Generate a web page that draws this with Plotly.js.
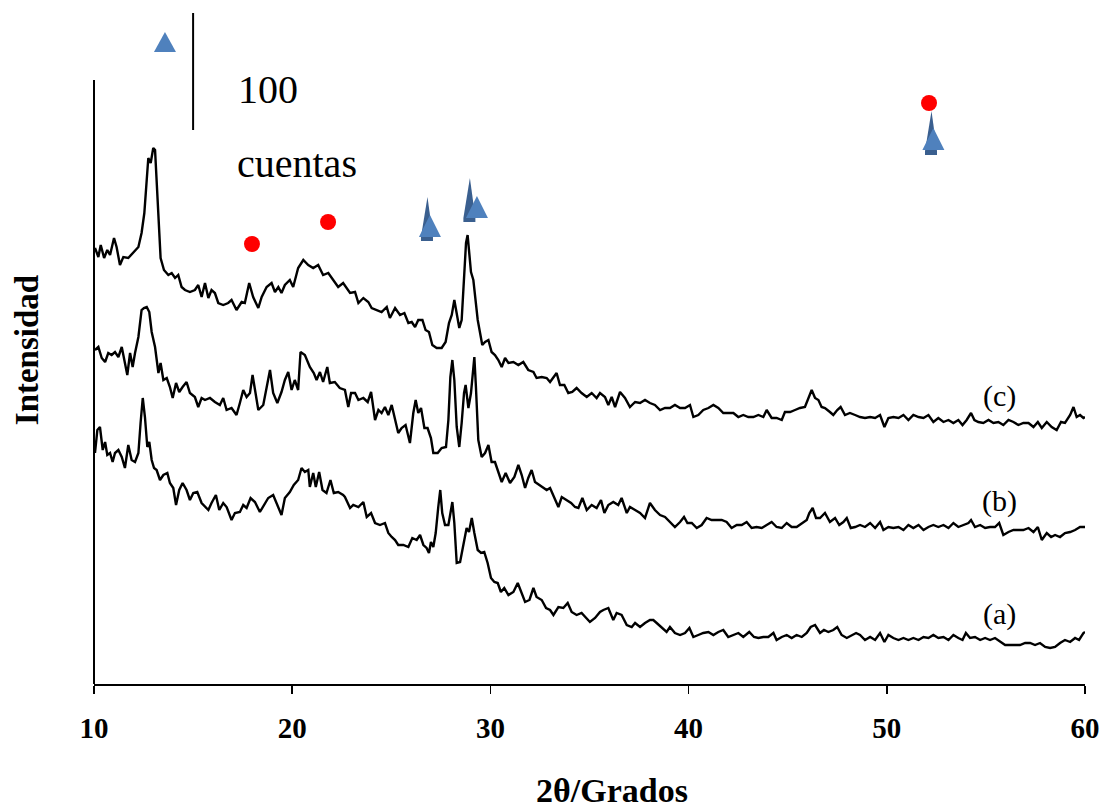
<!DOCTYPE html>
<html><head><meta charset="utf-8">
<script src="https://cdn.plot.ly/plotly-3.0.1.min.js"></script>
<style>html,body{margin:0;padding:0;background:#fff}</style>
</head><body>
<div id="chart" style="width:1107px;height:812px"></div>
<script>
// 2theta (degrees) and intensity (arbitrary units, stacked)
const angC = [10.05,10.22,10.34,10.51,10.67,10.81,11.01,11.14,11.31,11.48,11.73,11.98,12.24,12.40,12.54,12.66,12.74,12.86,12.99,13.08,13.16,13.25,13.36,13.53,13.75,13.92,14.09,14.25,14.42,14.59,14.84,15.09,15.26,15.43,15.60,15.77,15.93,16.10,16.27,16.52,16.77,16.94,17.19,17.45,17.61,17.83,18.03,18.29,18.46,18.71,18.96,19.13,19.30,19.46,19.63,19.88,20.05,20.30,20.56,20.81,21.06,21.31,21.56,21.82,22.07,22.32,22.57,22.92,23.17,23.34,23.59,23.84,24.01,24.26,24.51,24.77,24.93,25.19,25.44,25.66,25.86,26.03,26.20,26.36,26.57,26.73,26.90,27.07,27.29,27.54,27.74,27.91,28.05,28.18,28.30,28.43,28.55,28.67,28.77,28.85,28.94,29.02,29.14,29.26,29.36,29.48,29.59,29.73,29.90,30.06,30.23,30.40,30.57,30.74,30.91,31.16,31.41,31.66,31.91,32.17,32.33,32.59,32.84,33.01,33.18,33.34,33.51,33.73,33.93,34.13,34.35,34.60,34.86,35.11,35.36,35.53,35.78,35.95,36.12,36.29,36.54,36.79,37.04,37.30,37.55,37.80,38.05,38.30,38.56,38.81,39.06,39.31,39.57,39.82,40.07,40.24,40.49,40.74,41.00,41.25,41.50,41.75,42.00,42.26,42.51,42.76,43.01,43.27,43.52,43.77,43.94,44.19,44.44,44.70,44.86,45.12,45.37,45.62,45.87,46.04,46.21,46.38,46.55,46.71,46.88,47.13,47.30,47.50,47.67,47.89,48.14,48.40,48.65,48.90,49.16,49.41,49.66,49.88,50.08,50.33,50.59,50.84,51.09,51.34,51.60,51.85,52.10,52.35,52.60,52.86,53.11,53.36,53.61,53.82,54.03,54.25,54.42,54.62,54.87,55.13,55.38,55.63,55.88,56.14,56.39,56.64,56.89,57.15,57.40,57.62,57.82,58.07,58.32,58.57,58.79,58.99,59.25,59.42,59.58,59.75,59.92,60.00];
const intC = [436,427,439,426,434,429,446,437,419,427,426,431,437,451,471,504,526,521,536,534,501,457,426,414,409,411,406,409,397,394,392,394,399,387,401,386,394,391,381,379,381,384,374,382,381,401,387,376,387,397,401,392,397,391,399,404,397,416,424,419,416,419,409,411,404,397,401,391,392,381,386,382,376,374,372,377,366,376,369,371,361,362,357,364,364,354,352,339,336,336,342,361,369,384,371,356,364,404,441,449,427,412,404,381,364,351,339,342,344,332,329,324,317,326,321,322,319,322,314,312,306,307,306,302,307,311,299,299,291,292,296,291,287,291,286,291,287,279,287,277,292,286,277,282,281,284,281,279,274,276,276,279,276,276,279,267,269,274,276,279,276,271,271,271,267,269,267,267,269,267,274,266,266,264,272,272,274,276,277,286,294,286,284,277,276,272,269,274,277,269,271,269,267,266,267,266,269,257,266,267,266,269,264,269,267,266,269,262,266,262,264,261,264,259,264,271,264,262,261,264,261,262,259,264,262,259,261,261,257,262,256,262,257,254,262,261,269,277,267,269,266,267];

const angB = [10.05,10.22,10.39,10.56,10.72,10.89,11.06,11.23,11.40,11.56,11.68,11.82,11.95,12.07,12.24,12.40,12.52,12.66,12.79,12.91,13.08,13.25,13.36,13.50,13.67,13.83,13.97,14.14,14.30,14.47,14.67,14.84,15.09,15.26,15.43,15.60,15.85,16.10,16.35,16.52,16.69,16.94,17.19,17.36,17.53,17.70,17.87,18.00,18.14,18.29,18.54,18.71,18.88,19.04,19.25,19.46,19.63,19.80,19.97,20.13,20.30,20.42,20.64,20.89,21.09,21.23,21.40,21.56,21.77,21.90,22.15,22.40,22.66,22.83,22.97,23.17,23.34,23.59,23.81,23.98,24.18,24.35,24.51,24.68,24.85,25.02,25.19,25.35,25.52,25.72,25.94,26.11,26.23,26.36,26.50,26.67,26.83,27.00,27.12,27.34,27.54,27.76,27.88,27.98,28.08,28.18,28.30,28.43,28.55,28.67,28.75,28.89,29.02,29.12,29.19,29.27,29.39,29.56,29.73,29.90,30.06,30.23,30.40,30.57,30.77,30.99,31.21,31.41,31.58,31.75,31.91,32.08,32.25,32.45,32.67,32.84,33.01,33.22,33.43,33.60,33.85,34.07,34.27,34.44,34.64,34.86,35.11,35.36,35.58,35.75,35.95,36.20,36.45,36.62,36.88,37.04,37.30,37.55,37.80,38.05,38.30,38.56,38.81,39.06,39.31,39.57,39.77,39.94,40.16,40.41,40.66,40.91,41.16,41.42,41.67,41.92,42.17,42.43,42.68,42.93,43.18,43.43,43.69,43.94,44.19,44.44,44.70,44.95,45.20,45.45,45.71,45.96,46.09,46.26,46.43,46.63,46.88,47.13,47.39,47.60,47.81,47.98,48.18,48.40,48.65,48.90,49.16,49.41,49.66,49.83,50.08,50.33,50.59,50.84,51.09,51.34,51.60,51.85,52.10,52.35,52.60,52.86,53.11,53.36,53.61,53.87,54.12,54.25,54.45,54.71,54.96,55.21,55.46,55.67,55.88,56.14,56.39,56.64,56.89,57.15,57.40,57.62,57.82,58.07,58.29,58.49,58.74,58.99,59.25,59.50,59.75,60.00];
const intB = [334,337,326,322,331,329,332,327,337,321,309,331,317,331,347,374,376,377,372,352,337,311,321,304,306,297,286,301,292,297,302,291,287,277,286,284,286,282,279,286,274,276,269,281,294,287,291,309,291,274,279,296,314,291,281,292,304,312,294,304,294,332,329,317,311,304,312,302,317,301,302,296,294,277,291,291,284,286,282,292,264,274,271,277,269,279,264,251,256,259,241,271,284,271,276,256,256,246,231,231,236,237,264,307,324,304,257,237,261,291,299,276,291,317,327,297,244,227,231,239,222,222,212,202,211,201,207,219,209,196,206,214,202,199,196,194,196,187,177,187,184,181,177,176,186,174,179,176,184,171,179,182,179,186,171,177,174,171,166,181,174,169,167,162,157,162,167,161,161,156,159,166,164,164,164,162,156,159,159,162,156,157,156,159,162,157,156,161,157,157,161,164,171,176,166,166,171,162,166,159,162,166,156,157,159,157,161,156,162,154,157,156,157,154,159,156,159,154,157,159,157,159,156,161,157,159,161,164,157,159,156,157,157,161,149,152,154,154,154,156,152,157,144,151,147,149,147,151,152,154,157,157];

const angA = [10.05,10.17,10.30,10.44,10.56,10.67,10.81,10.94,11.06,11.23,11.40,11.56,11.73,11.90,12.07,12.24,12.35,12.46,12.57,12.69,12.79,12.91,13.03,13.16,13.33,13.50,13.70,13.83,14.00,14.14,14.30,14.47,14.67,14.84,15.01,15.21,15.43,15.60,15.77,15.93,16.15,16.32,16.52,16.69,16.94,17.11,17.36,17.53,17.70,17.90,18.12,18.37,18.57,18.79,19.04,19.21,19.46,19.63,19.88,20.08,20.30,20.47,20.64,20.81,20.89,21.06,21.19,21.36,21.53,21.73,21.93,22.10,22.32,22.57,22.66,22.92,23.08,23.34,23.59,23.76,23.98,24.18,24.43,24.68,24.85,25.02,25.19,25.35,25.61,25.86,26.06,26.28,26.45,26.62,26.78,26.90,27.00,27.12,27.24,27.37,27.47,27.57,27.71,27.88,28.00,28.08,28.18,28.30,28.47,28.63,28.80,28.92,29.06,29.19,29.36,29.53,29.69,29.86,30.03,30.20,30.37,30.53,30.70,30.91,31.16,31.38,31.54,31.75,31.97,32.17,32.33,32.59,32.81,33.01,33.18,33.43,33.68,33.90,34.10,34.35,34.60,34.81,35.02,35.28,35.53,35.70,35.95,36.20,36.37,36.62,36.88,37.13,37.30,37.55,37.80,38.05,38.22,38.39,38.64,38.89,39.06,39.31,39.57,39.82,40.04,40.24,40.49,40.74,41.00,41.25,41.50,41.75,42.00,42.26,42.51,42.76,43.06,43.30,43.52,43.77,44.02,44.28,44.44,44.70,44.95,45.20,45.45,45.71,45.96,46.16,46.38,46.63,46.83,47.05,47.30,47.50,47.72,47.98,48.23,48.45,48.65,48.90,49.16,49.41,49.66,49.88,50.08,50.33,50.59,50.84,51.09,51.34,51.60,51.85,52.10,52.35,52.60,52.86,53.11,53.36,53.61,53.82,53.99,54.20,54.45,54.71,54.96,55.21,55.46,55.72,55.97,56.22,56.47,56.72,56.98,57.23,57.48,57.73,57.99,58.24,58.49,58.74,58.99,59.25,59.50,59.70,59.92,60.00];
const intA = [231,254,257,234,242,229,231,222,231,234,227,216,239,224,222,231,261,286,267,237,242,224,216,214,204,209,211,201,196,179,194,201,194,184,191,192,181,177,174,181,189,174,181,177,164,171,172,179,176,186,182,172,179,186,189,181,169,186,192,199,204,216,212,214,197,211,197,212,194,191,204,191,192,189,187,176,179,177,182,167,171,161,159,161,151,147,144,139,139,137,146,144,149,139,136,131,142,137,151,177,194,171,159,159,174,182,161,121,122,137,156,152,166,151,134,131,132,121,106,102,101,92,96,89,92,101,92,82,84,96,87,84,76,74,69,77,76,81,72,69,71,66,62,66,72,74,76,64,71,69,59,57,61,57,61,64,64,61,56,52,57,51,49,51,56,47,49,51,52,49,52,54,47,49,51,47,52,47,46,47,47,51,44,47,49,46,49,47,51,57,59,51,54,52,54,57,49,46,49,51,49,44,47,44,51,42,49,46,44,46,44,46,44,47,46,49,46,47,44,49,46,44,51,46,47,44,46,44,46,42,39,39,39,39,41,41,39,41,37,36,37,41,44,42,46,44,51,52];

// phase markers (red circles, blue triangles) and their positions
const circleAng = [17.97, 21.81, 52.13];
const circleInt = [440, 462, 581];
const triAng = [26.95, 29.32, 52.35];
const triInt = [447, 466, 534];
const spikeAng = [26.80, 28.94, 52.23];
const spikeInt = [447, 466, 533];
const keyTriAng = [13.58];
const keyTriInt = [632];

// 100-count scale bar
const scaleBarAng = [15.0, 15.0];
const scaleBarInt = [554, 671];

// series labels
const seriesLabels = ['(a)', '(b)', '(c)'];
const labelAng = [55.71, 55.71, 55.71];
const labelInt = [70, 183, 288];

const tickVals = [10, 20, 30, 40, 50, 60];

const serif = 'Liberation Serif, Times New Roman, serif';
const lineStyle = {color: '#000', width: 2.4};

const traces = [
  {x: angA, y: intA, mode: 'lines', line: lineStyle, name: '(a)', hoverinfo: 'x+y'},
  {x: angB, y: intB, mode: 'lines', line: lineStyle, name: '(b)', hoverinfo: 'x+y'},
  {x: angC, y: intC, mode: 'lines', line: lineStyle, name: '(c)', hoverinfo: 'x+y'},
  {x: circleAng, y: circleInt, mode: 'markers', marker: {size: 16, color: '#FF0000'}, cliponaxis: false, name: 'circle phase'},
  {x: scaleBarAng, y: scaleBarInt, mode: 'lines', line: {color: '#000', width: 2}, name: '100 cuentas'}
];

const shapes = [];
// y-axis line (partial height)
shapes.push({type: 'line', xref: 'paper', yref: 'paper', x0: 0, x1: 0, y0: 0, y1: 0.883, line: {color: '#000', width: 2}});
spikeAng.forEach((a, i) => shapes.push({
  type: 'path', xref: 'x', yref: 'y', xsizemode: 'pixel', ysizemode: 'pixel',
  xanchor: a, yanchor: spikeInt[i],
  path: 'M -6 -4 L 6 -4 L 6 0 L 0.5 40 L -6 0 Z',
  fillcolor: '#3A5F8F', line: {width: 0}
}));
triAng.forEach((a, i) => shapes.push({
  type: 'path', xref: 'x', yref: 'y', xsizemode: 'pixel', ysizemode: 'pixel',
  xanchor: a, yanchor: triInt[i],
  path: 'M -11 0 L 11 0 L 0 22 Z',
  fillcolor: '#4F81BD', line: {width: 0}
}));
keyTriAng.forEach((a, i) => shapes.push({
  type: 'path', xref: 'x', yref: 'y', xsizemode: 'pixel', ysizemode: 'pixel',
  xanchor: a, yanchor: keyTriInt[i],
  path: 'M -11 0 L 11 0 L 0 20 Z',
  fillcolor: '#4F81BD', line: {width: 0}
}));

const annotations = [];
seriesLabels.forEach((t, i) => annotations.push({
  x: labelAng[i], y: labelInt[i], xref: 'x', yref: 'y', text: t, showarrow: false,
  xanchor: 'center', yanchor: 'middle', font: {family: serif, size: 30, color: '#000'}
}));
annotations.push({x: 17.16, y: 595, xref: 'x', yref: 'y', text: '100', showarrow: false,
  xanchor: 'left', yanchor: 'middle', font: {family: serif, size: 40, color: '#000'}});
annotations.push({x: 17.11, y: 521, xref: 'x', yref: 'y', text: 'cuentas', showarrow: false,
  xanchor: 'left', yanchor: 'middle', font: {family: serif, size: 40, color: '#000'}});
annotations.push({x: 36.14, y: -0.155, xref: 'x', yref: 'paper', text: '2θ/Grados', showarrow: false,
  xanchor: 'center', yanchor: 'middle', font: {family: serif, size: 34, color: '#000', weight: 'bold'}});
annotations.push({x: -0.0676, y: 0.488, xref: 'paper', yref: 'paper', text: 'Intensidad', showarrow: false,
  textangle: -90, xanchor: 'center', yanchor: 'middle', font: {family: serif, size: 33, color: '#000', weight: 'bold'}});

const layout = {
  width: 1107, height: 812,
  margin: {l: 94, r: 22, t: 0, b: 128},
  paper_bgcolor: '#fff', plot_bgcolor: '#fff',
  showlegend: false,
  xaxis: {
    range: [10, 60], tickvals: tickVals, ticks: 'outside', ticklen: 8, tickwidth: 1.5, tickcolor: '#000',
    showline: true, linewidth: 2, linecolor: '#000', showgrid: false, zeroline: false,
    tickfont: {family: serif, size: 29, color: '#000', weight: 'bold'}, ticklabelstandoff: 9
  },
  yaxis: {
    range: [0, 684], showline: false, showticklabels: false, ticks: '', showgrid: false, zeroline: false
  },
  shapes: shapes,
  annotations: annotations
};

Plotly.newPlot('chart', traces, layout, {displayModeBar: false, staticPlot: true});
</script>
</body></html>
